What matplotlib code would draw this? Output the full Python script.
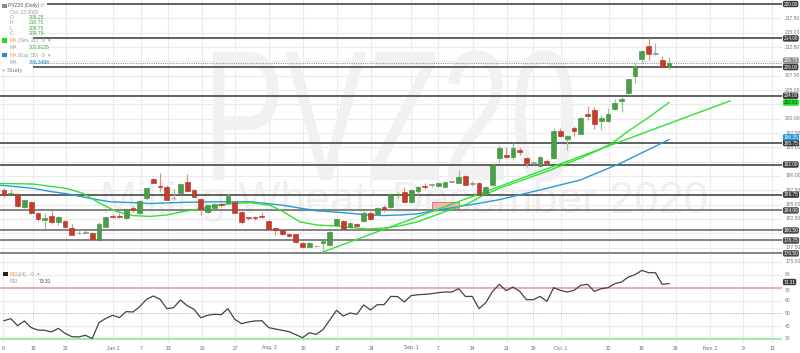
import numpy as np
import matplotlib
matplotlib.use("Agg")
import matplotlib.pyplot as plt
from matplotlib.patches import Rectangle
from matplotlib.patheffects import AbstractPathEffect
from matplotlib.transforms import Affine2D, blended_transform_factory

# ---------------- data ----------------
opens = [187.55, 186.85, 186.80, 184.65, 185.40, 183.60, 182.30, 183.10, 182.00, 182.15,
         180.90, 180.00, 180.10, 180.00, 178.85, 181.15, 183.00, 183.00, 182.60, 184.40,
         183.50, 186.10, 189.50, 188.30, 188.10, 186.10, 187.00, 189.00, 187.55, 185.90,
         183.80, 184.40, 185.10, 185.35, 185.50, 183.80, 182.80, 182.85, 183.00, 182.20,
         180.90, 180.60, 179.80, 179.80, 178.30, 177.60, 177.75, 178.30, 178.00, 181.45,
         182.20, 181.05, 181.60, 182.15, 183.50, 183.40, 184.65, 184.65, 186.60, 187.15,
         185.40, 187.30, 188.25, 188.40, 188.30, 188.10, 189.00, 188.85, 190.05, 188.60,
         188.80, 186.70, 188.40, 193.10, 193.70, 193.30, 194.50, 193.20, 192.25, 191.70,
         192.60, 193.10, 197.85, 196.50, 198.40, 197.40, 200.80, 201.50, 199.65, 199.65,
         201.70, 203.00, 204.40, 207.40, 210.40, 212.70, 211.30, 210.20, 209.25]
closes = [186.60, 187.10, 184.80, 185.80, 183.50, 182.50, 182.60, 182.00, 182.90, 181.10,
          179.75, 180.00, 180.10, 178.95, 181.70, 182.90, 182.85, 182.80, 184.20, 184.10,
          185.60, 187.85, 188.80, 188.10, 185.90, 186.10, 188.60, 187.30, 186.40, 184.20,
          184.90, 185.20, 184.90, 186.50, 183.60, 182.00, 182.60, 182.60, 182.80, 180.70,
          180.50, 179.80, 179.60, 178.40, 177.60, 178.30, 177.75, 178.60, 180.30, 182.50,
          180.70, 181.75, 181.30, 183.60, 182.50, 184.40, 184.20, 186.85, 186.90, 185.50,
          187.60, 188.10, 188.00, 188.40, 188.70, 188.90, 189.00, 189.90, 188.50, 188.60,
          186.90, 188.00, 191.90, 194.90, 193.30, 194.80, 194.10, 192.30, 192.25, 193.40,
          192.20, 197.90, 197.00, 196.90, 197.80, 200.20, 200.50, 199.00, 200.20, 200.90,
          202.80, 203.50, 206.90, 209.10, 211.80, 211.20, 211.30, 209.10, 209.75]
highs = [187.85, 187.70, 186.95, 185.90, 185.60, 183.80, 183.50, 184.10, 183.00, 182.30,
         181.70, 180.40, 180.50, 180.30, 182.00, 183.00, 183.30, 183.50, 184.35, 184.70,
         185.80, 188.10, 189.60, 190.60, 188.40, 187.70, 188.70, 190.30, 187.70, 186.10,
         185.20, 185.35, 185.35, 187.00, 185.70, 183.95, 182.90, 183.10, 183.70, 182.30,
         181.00, 180.70, 180.00, 179.90, 178.40, 178.40, 177.95, 178.90, 180.60, 182.60,
         182.40, 182.00, 181.80, 183.90, 183.95, 184.65, 184.95, 187.10, 187.20, 188.00,
         187.70, 188.25, 188.85, 188.85, 188.90, 189.00, 189.10, 191.00, 190.20, 189.20,
         189.00, 188.30, 192.20, 195.40, 195.10, 195.70, 195.00, 193.40, 192.50, 193.50,
         193.00, 198.30, 198.30, 197.20, 198.70, 200.25, 202.20, 202.10, 200.60, 201.80,
         203.50, 203.80, 207.00, 209.65, 212.00, 214.00, 213.25, 210.90, 210.75]
lows = [186.40, 186.80, 184.65, 184.50, 183.30, 182.20, 180.70, 181.70, 181.45, 181.00,
        179.70, 179.90, 179.95, 178.70, 178.70, 181.05, 182.70, 182.60, 182.45, 183.80,
        183.40, 185.90, 188.70, 187.30, 185.80, 185.90, 186.85, 187.20, 186.30, 183.20,
        183.50, 184.20, 184.65, 185.20, 183.50, 181.60, 182.40, 182.30, 182.60, 180.60,
        179.70, 179.70, 179.40, 178.30, 177.50, 177.50, 177.60, 176.80, 177.80, 181.30,
        180.60, 180.90, 181.20, 182.00, 182.30, 183.20, 183.80, 184.50, 186.10, 185.40,
        185.30, 186.70, 187.80, 188.10, 188.20, 188.00, 188.90, 188.70, 188.40, 188.30,
        186.80, 186.60, 188.25, 192.20, 193.10, 192.80, 193.70, 191.60, 192.10, 191.60,
        192.10, 192.90, 196.85, 194.50, 197.00, 197.30, 199.70, 198.20, 198.00, 199.50,
        201.50, 201.20, 204.10, 206.30, 209.65, 210.20, 211.10, 208.95, 208.75]
rsi = [44.3, 45.9, 40.4, 44.1, 38.9, 37.0, 36.8, 35.5, 38.3, 34.4,
       31.8, 31.6, 32.9, 30.3, 42.8, 46.1, 48.5, 46.7, 51.4, 51.1,
       55.3, 61.0, 63.6, 61.0, 53.7, 54.5, 60.5, 56.0, 53.2, 46.6,
       48.5, 49.3, 49.0, 53.7, 45.4, 42.0, 43.3, 44.1, 44.3, 38.9,
       37.8, 36.8, 35.7, 33.4, 31.0, 34.9, 33.6, 37.3, 44.8, 52.4,
       48.0, 50.3, 49.3, 56.6, 52.7, 56.8, 56.8, 63.3, 63.1, 58.9,
       63.9, 64.6, 64.9, 65.4, 66.2, 66.7, 66.7, 69.3, 63.2, 63.3,
       53.7, 58.4, 67.2, 72.7, 67.8, 70.6, 67.2, 60.7, 60.7, 63.3,
       59.4, 70.1, 68.0, 66.7, 68.0, 71.9, 72.7, 67.2, 69.3, 70.1,
       73.2, 74.5, 78.4, 80.3, 83.6, 81.8, 81.8, 72.7, 73.31]

ma20_x = [-0.6, 4.3, 6.8, 9.3, 11.6, 14.2, 16.6, 19.0, 21.5, 24.0, 26.4, 28.9, 31.4, 33.7,
          36.3, 39.2, 41.1, 43.6, 46.1, 48.5, 51.0, 53.5, 55.9, 58.4, 60.9, 63.2, 65.7,
          68.2, 70.6, 73.1, 75.0, 80.0, 84.9, 87.4, 89.7, 92.2, 94.8, 98.0]
ma20_y = [188.7, 188.6, 188.2, 187.8, 187.0, 185.2, 183.8, 183.1, 182.95, 183.2, 183.8,
          184.25, 184.9, 185.2, 185.35, 184.9, 183.8, 182.0, 181.45, 181.3, 181.05,
          180.75, 180.9, 181.3, 182.0, 183.0, 184.1, 185.1, 186.6, 187.9, 188.7, 190.8,
          193.1, 194.4, 195.8, 198.0, 200.06, 202.81]
ema50_x = [-0.6, 4.3, 6.8, 9.3, 12.7, 15.6, 19.0, 21.5, 26.4, 31.4, 36.3, 41.1, 43.6, 46.1,
           51.0, 53.5, 55.9, 58.4, 60.9, 63.2, 65.7, 68.2, 70.6, 73.1, 80.0, 84.9, 90.8,
           94.8, 98.0]
ema50_y = [188.4, 187.85, 187.3, 186.9, 186.1, 185.5, 185.35, 185.2, 185.4, 185.5, 185.5,
           184.9, 184.4, 183.95, 183.5, 183.2, 183.1, 183.2, 183.4, 183.9, 184.4, 184.9,
           185.35, 185.9, 187.85, 189.3, 192.2, 194.5, 196.35]

trend_x = [47.0, 107.0]
trend_y = [176.75, 203.10]
box_x = [63.0, 67.1]
box_y = [184.2, 185.5]

level_prices = [220.00, 214.00, 209.00, 204.00, 195.75, 192.00, 186.75,
                184.00, 180.50, 178.75, 176.50]
last_price = 209.75
ma20_last = 202.81
ema50_last = 196.35
rsi_last = 73.31

tick_pos = [-0.1, 4.3, 9.1, 16.1, 20.2, 24.2, 29.2, 34.1, 39.1, 44.1, 49.1, 54.1, 60.0,
            64.0, 69.1, 74.1, 78.0, 82.1, 89.1, 94.0, 99.0, 104.0, 108.9, 113.2]
tick_labels = ["8", "15", "22", "Jun 1", "7", "13", "20", "27", "Aug. 3", "10", "17", "24",
               "Sep. 1", "7", "14", "21", "28", "Oct. 1", "12", "19", "26", "Nov. 2", "9", "13"]

# ---------------- figure ----------------
W, H = 800, 353
FONT = "Liberation Sans"
FS = 3.6
fig = plt.figure(figsize=(W / 100, H / 100), dpi=100)
fig.patch.set_facecolor("white")

ax = fig.add_axes([0, 1 - 266 / H, 782 / W, 266 / H])
axr = fig.add_axes([0, 1 - 343 / H, 782 / W, 76 / H])
for a in (ax, axr):
    for s in a.spines.values():
        s.set_visible(False)
    a.set_xlim(-0.59, 114.65)
    a.tick_params(left=False, right=False, labelleft=False, bottom=False, labelbottom=False)
    a.set_yticks([])
    for t in tick_pos:
        a.axvline(t, color="#ebebeb", lw=0.8, zorder=0)

ax.set_ylim(174.30, 220.70)
axr.set_ylim(26.875, 86.25)

# horizontal grid
for v in np.arange(175, 220.01, 2.5):
    ax.axhline(v, color="#ebebeb", lw=0.8, zorder=0)
for v in [40, 60, 80]:
    axr.axhline(v, color="#ebebeb", lw=0.8, zorder=0)


# watermark (squeezed horizontally, still real text)
class HSqueeze(AbstractPathEffect):
    def __init__(self, sx):
        super().__init__((0, 0))
        self._sx = sx

    def draw_path(self, renderer, gc, tpath, affine, rgbFace=None):
        renderer.draw_path(gc, tpath, Affine2D().scale(self._sx, 1.0) + affine, rgbFace)


ax.text(29.3, 189.3, "PVZ20", fontsize=134, color="#f1f1f1", family=FONT,
        ha="left", va="baseline", zorder=0.5, path_effects=[HSqueeze(0.66)])
ax.text(14.2, 183.6, "Milling Wheat: December 2020", fontsize=32, color="#efefef",
        family=FONT, ha="left", va="baseline", zorder=0.5)

# annotation box
ax.add_patch(Rectangle((box_x[0], box_y[0]), box_x[1] - box_x[0], box_y[1] - box_y[0],
                       fc="#f4b4b4", ec="#d27272", lw=0.6, zorder=2))

# level lines
for p in level_prices:
    col = "#555555" if p >= 186 else "#7a7a7a"
    ax.axhline(p, color=col, lw=1.3, zorder=2.5)
ax.axhline(last_price, color="#999999", lw=0.8, ls=(0, (1, 1)), zorder=2.5)

# moving averages / trendline
ax.plot(ema50_x, ema50_y, color="#2a9ad8", lw=1.0, zorder=3)
ax.plot(ma20_x, ma20_y, color="#33e033", lw=1.0, zorder=3)
ax.plot(trend_x, trend_y, color="#33e033", lw=1.0, zorder=3)

# candles
x = np.arange(len(opens))
o = np.array(opens); c = np.array(closes); h = np.array(highs); l = np.array(lows)
up = c > o + 0.01
dn = c < o - 0.01
body_col = np.where(up, "#4a9e48", np.where(dn, "#c63b2d", "#9a9a9a"))
edge_col = np.where(up, "#3b8a39", np.where(dn, "#a83224", "#8a8a8a"))
wick_col = np.where(up, "#8fc98d", np.where(dn, "#e59087", "#b0b0b0"))
ax.vlines(x, l, h, colors=wick_col, lw=0.9, zorder=4)
bottoms = np.minimum(o, c)
heights = np.maximum(np.abs(c - o), 0.12)
ax.bar(x, heights, bottom=bottoms, width=0.7, color=body_col, edgecolor=edge_col,
       linewidth=0.4, zorder=5)

# RSI
axr.axhline(70, color="#f7a8a8", lw=1.4, zorder=1)
axr.axhline(30, color="#9ff09f", lw=1.4, zorder=1)
axr.axhline(50, color="#aaaaaa", lw=0.6, ls=(0, (1.5, 1.5)), zorder=1)
axr.plot(x, rsi, color="#444444", lw=0.9, zorder=3)

# x tick labels
axr.set_xticks(tick_pos)
axr.set_xticklabels(tick_labels, fontsize=FS, color="#666666", family=FONT)
axr.tick_params(axis="x", bottom=False, labelbottom=True, length=0, pad=1.8)

# right-hand price labels (those hidden behind a price box are not drawn)
trm = blended_transform_factory(ax.transAxes, ax.transData)
box_levels = level_prices + [last_price, ma20_last, ema50_last]
for v in np.arange(175, 220.01, 2.5):
    if min(abs(v - b) for b in box_levels) < 0.7:
        continue
    ax.text(1.004, v, f"{v:.2f}", transform=trm, fontsize=FS, color="#777777",
            family=FONT, ha="left", va="center", clip_on=False)


def price_box(axis, tr, v, label, fc, tc="white"):
    axis.text(1.002, v, label, transform=tr, fontsize=FS - 0.2, color=tc, family=FONT,
              ha="left", va="center", clip_on=False, zorder=20,
              bbox=dict(boxstyle="round,pad=0.15,rounding_size=0.35", fc=fc, ec="none"))


for p in level_prices:
    price_box(ax, trm, p, f"{p:.2f}", "#3c3c3c" if p >= 186 else "#4a4a4a")
price_box(ax, trm, last_price + 0.38, f"{last_price:.2f}", "#8a8a8a")
price_box(ax, trm, ma20_last, f"{ma20_last:.2f}", "#22dd22", "#0b3d0b")
price_box(ax, trm, ema50_last + 0.4, f"{ema50_last:.2f}", "#1e96dc")

trr = blended_transform_factory(axr.transAxes, axr.transData)
for v in [30, 40, 50, 60, 80]:
    axr.text(1.004, v, f"{v}", transform=trr, fontsize=FS, color="#777777",
             family=FONT, ha="left", va="center", clip_on=False)
axr.text(1.004, 68.2, "70", transform=trr, fontsize=FS, color="#777777",
         family=FONT, ha="left", va="center", clip_on=False)
price_box(axr, trr, rsi_last + 1.2, f"{rsi_last:.2f}", "#3c3c3c")


# ---------------- legends (figure pixel coords) ----------------
def T(px, py, s, color="#777777", size=FS, fam=FONT, **kw):
    fig.text(px / W, 1 - py / H, s, fontsize=size, color=color, family=fam,
             ha="left", va="center", **kw)


def SQ(px, py, w, h, fc, ec="none"):
    fig.add_artist(Rectangle((px / W, 1 - (py + h) / H), w / W, h / H,
                             transform=fig.transFigure, fc=fc, ec=ec, lw=0.4, zorder=30))


# white backing for the price legend
fig.add_artist(Rectangle((0, 1 - 74 / H), 33 / W, 74 / H, transform=fig.transFigure,
                         fc="white", ec="none", zorder=25))
fig.add_artist(Rectangle((0, 1 - 10 / H), 47 / W, 10 / H, transform=fig.transFigure,
                         fc="white", ec="none", zorder=25))

GREEN_T = "#3cae3c"
ORANGE = "#f0a030"
SQ(2, 3.5, 4.5, 4.5, "#8a8a8a")
T(8.5, 5.8, "PVZ20 (Daily)", "#555555", zorder=31)
T(40, 5.8, "\u2699", "#aaaaaa", fam="DejaVu Sans", zorder=31)
T(10, 12.5, "Oct. 23 2020", "#999999", zorder=31)
for yy, lab, val in [(17.6, "O", "209.25"), (22.9, "H", "210.75"),
                     (28.3, "L", "208.75"), (33.7, "C", "209.75")]:
    T(10, yy, lab, "#999999", zorder=31)
    T(29, yy, val, GREEN_T, zorder=31)

SQ(2, 38.3, 4.5, 4.5, "#22dd22")
T(9.5, 40.6, "MA", ORANGE, zorder=31)
T(18.5, 40.6, "(Sim, 20)", "#999999", zorder=31)
T(41, 40.6, "\u2699", "#aaaaaa", fam="DejaVu Sans", zorder=31)
T(47.5, 40.6, "\u25be", "#999999", fam="DejaVu Sans", zorder=31)
T(10, 47.6, "MA", "#999999", zorder=31)
T(29, 47.6, "202.8125", GREEN_T, zorder=31)

SQ(2, 52.8, 4.5, 4.5, "#1e90d0")
T(9.5, 55.1, "MA", ORANGE, zorder=31)
T(18.5, 55.1, "(Exp, 50)", "#999999", zorder=31)
T(41, 55.1, "\u2699", "#aaaaaa", fam="DejaVu Sans", zorder=31)
T(47.5, 55.1, "\u25be", "#999999", fam="DejaVu Sans", zorder=31)
T(10, 62.2, "MA", "#999999", zorder=31)
T(29, 62.2, "196.3496", "#1e90d0", zorder=31)

T(2.5, 70.7, "+ Study", "#777777", size=4.2, zorder=31)

# RSI legend
SQ(3, 271.8, 4.5, 4.5, "#222222")
T(10, 274.2, "RSI", ORANGE, zorder=31)
T(18, 274.2, "(14)", "#999999", zorder=31)
T(30, 274.2, "\u2699", "#aaaaaa", fam="DejaVu Sans", zorder=31)
T(37, 274.2, "\u25be", "#999999", fam="DejaVu Sans", zorder=31)
T(10, 281.8, "RSI", "#999999", zorder=31)
T(39, 281.8, "73.31", "#444444", zorder=31)

fig.savefig("out.png", dpi=100, facecolor="white")
